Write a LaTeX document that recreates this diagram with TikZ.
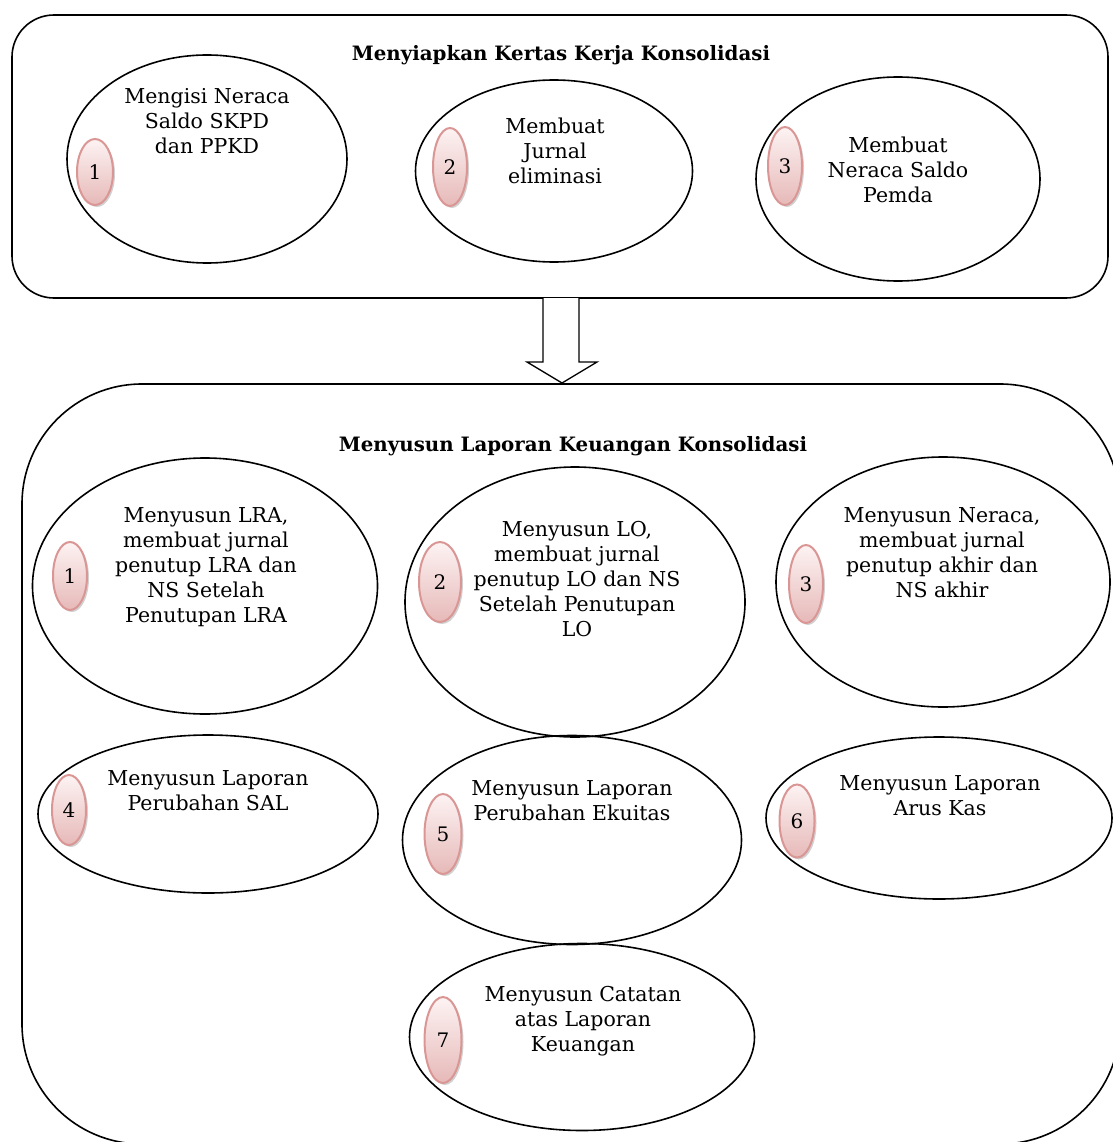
\documentclass[tikz,border=0pt]{standalone}
\usepackage{fontspec}
\setmainfont{DejaVu Serif}
\usetikzlibrary{shapes.geometric,shadows}
\definecolor{bdr}{HTML}{D99694}
\definecolor{btop}{HTML}{FDF3F3}
\definecolor{bbot}{HTML}{E6B9B8}
\tikzset{
  frame/.style={draw, line width=1.6pt, inner sep=0pt},
  oval/.style={ellipse, draw, line width=1.6pt, inner sep=0pt},
  txt/.style={align=center, inner sep=0pt, font=\fontsize{20.5}{25}\selectfont},
  ttl/.style={inner sep=0pt, font=\fontsize{19.8}{25}\selectfont\bfseries},
  badge/.style={ellipse, draw=bdr, line width=2pt, top color=btop, bottom color=bbot,
    inner sep=0pt, font=\fontsize{20}{25}\selectfont,
    drop shadow={shadow xshift=2pt, shadow yshift=-2pt, opacity=0.3, fill=black!60}},
  blockarrow/.style={draw, fill=white, line width=1.3pt, line join=miter}
}
\begin{document}
\begin{tikzpicture}[x=1pt,y=-1pt]
\useasboundingbox (0,0) rectangle (1112,1142);
% frames
\node[frame, rounded corners=42pt, minimum width=1096pt, minimum height=283pt] (top) at (560,156.5) {};
\node[frame, rounded corners=120pt, minimum width=1098pt, minimum height=760pt] (bot) at (571,764) {};
% arrow
\draw[blockarrow] (543,298) -- (543,362) -- (527,362) -- (562,383) -- (597,362) -- (579,362) -- (579,298);
% titles
\node[ttl] (t1) at (561,55) {Menyiapkan Kertas Kerja Konsolidasi};
\node[ttl] (t2) at (573,446) {Menyusun Laporan Keuangan Konsolidasi};
% top ovals
\node[oval, minimum width=280pt, minimum height=208pt] (e1) at (207,159) {};
\node[oval, minimum width=277pt, minimum height=182pt] (e2) at (554,171) {};
\node[oval, minimum width=284pt, minimum height=204pt] (e3) at (898,179) {};
\node[txt] (x1) at (207,121) {Mengisi Neraca\\Saldo SKPD\\dan PPKD};
\node[txt] (x2) at (555,151) {Membuat\\Jurnal\\eliminasi};
\node[txt] (x3) at (898,170) {Membuat\\Neraca Saldo\\Pemda};
\node[badge, minimum width=36pt, minimum height=66pt] (b1) at (95,172) {1};
\node[badge, minimum width=34pt, minimum height=78pt] (b2) at (450,167) {2};
\node[badge, minimum width=34pt, minimum height=78pt] (b3) at (785,166) {3};
% bottom ovals
\node[oval, minimum width=345pt, minimum height=256pt] (f1) at (205,586) {};
\node[oval, minimum width=340pt, minimum height=270pt] (f2) at (575,602) {};
\node[oval, minimum width=334pt, minimum height=250pt] (f3) at (943,582) {};
\node[oval, minimum width=340pt, minimum height=158pt] (f4) at (208,814) {};
\node[oval, minimum width=339pt, minimum height=209pt] (f5) at (572,840) {};
\node[oval, minimum width=346pt, minimum height=162pt] (f6) at (939,818) {};
\node[oval, minimum width=345pt, minimum height=187pt] (f7) at (582,1037) {};
\node[txt] (y1) at (206,567) {Menyusun LRA,\\membuat jurnal\\penutup LRA dan\\NS Setelah\\Penutupan LRA};
\node[txt] (y2) at (577,579) {Menyusun LO,\\membuat jurnal\\penutup LO dan NS\\Setelah Penutupan\\LO};
\node[txt] (y3) at (942,553) {Menyusun Neraca,\\membuat jurnal\\penutup akhir dan\\NS akhir};
\node[txt] (y4) at (208,791) {Menyusun Laporan\\Perubahan SAL};
\node[txt] (y5) at (572,801) {Menyusun Laporan\\Perubahan Ekuitas};
\node[txt] (y6) at (940,796) {Menyusun Laporan\\Arus Kas};
\node[txt] (y7) at (583,1021) {Menyusun Catatan\\atas Laporan\\Keuangan};
\node[badge, minimum width=34pt, minimum height=68pt] (c1) at (70,576) {1};
\node[badge, minimum width=42pt, minimum height=80pt] (c2) at (440,582) {2};
\node[badge, minimum width=34pt, minimum height=78pt] (c3) at (806,584) {3};
\node[badge, minimum width=34pt, minimum height=70pt] (c4) at (69,810) {4};
\node[badge, minimum width=37pt, minimum height=80pt] (c5) at (443,834) {5};
\node[badge, minimum width=35pt, minimum height=73pt] (c6) at (797,821) {6};
\node[badge, minimum width=37pt, minimum height=86pt] (c7) at (443,1040) {7};
\end{tikzpicture}
\end{document}
